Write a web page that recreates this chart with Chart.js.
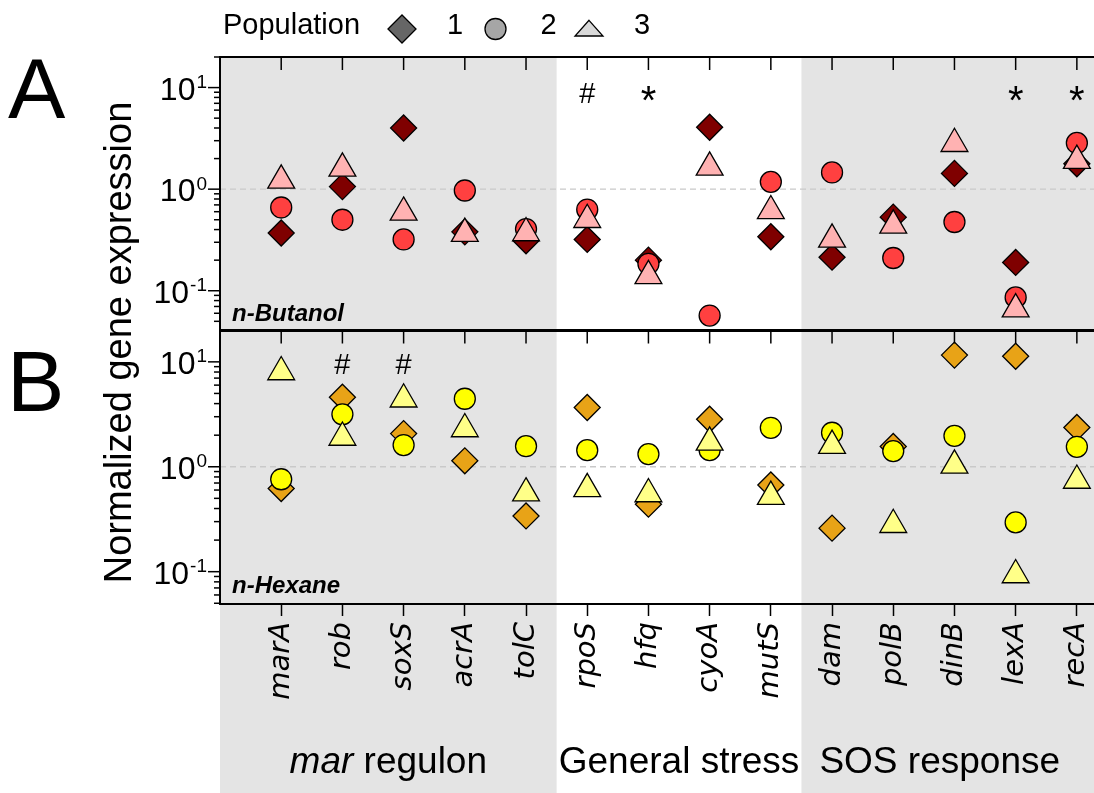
<!DOCTYPE html>
<html>
<head>
<meta charset="utf-8">
<script src="https://cdn.jsdelivr.net/npm/chart.js@4.4.0/dist/chart.umd.min.js"></script>
<style>
  html, body { margin: 0; padding: 0; background: #fff; overflow: hidden; }
  canvas { display: block; }
</style>
</head>
<body>
<canvas id="chart" width="1094" height="793"></canvas>
<script>
// Genes on the x axis, grouped by regulatory function
const genes = ['marA', 'rob', 'soxS', 'acrA', 'tolC', 'rpoS', 'hfq', 'cyoA', 'mutS', 'dam', 'polB', 'dinB', 'lexA', 'recA'];
const groupNames = ['mar regulon', 'General stress', 'SOS response'];
const groupBounds = [4.5, 8.5];          // category positions separating the groups
const decadeTicks = [0.1, 1, 10];

// n-Butanol: normalized expression per population
const butanolPop1 = [0.37, 1.06, 4.0, 0.38, 0.31, 0.32, 0.20, 4.07, 0.34, 0.214, 0.53, 1.43, 0.19, 1.78];
const butanolPop2 = [0.66, 0.50, 0.32, 0.97, 0.405, 0.63, 0.184, 0.057, 1.18, 1.46, 0.21, 0.475, 0.086, 2.85];
const butanolPop3 = [1.22, 1.60, 0.59, 0.365, 0.37, 0.50, 0.14, 1.64, 0.61, 0.32, 0.44, 2.8, 0.066, 1.91];
const butanolMarks = ['', '', '', '', '', '#', '*', '', '', '', '', '', '*', '*'];

// n-Hexane: normalized expression per population
const hexanePop1 = [0.62, 4.6, 2.07, 1.14, 0.34, 3.67, 0.44, 2.84, 0.67, 0.26, 1.56, 11.6, 11.3, 2.37];
const hexanePop2 = [0.76, 3.16, 1.61, 4.45, 1.57, 1.44, 1.32, 1.44, 2.35, 2.11, 1.41, 1.97, 0.295, 1.55];
const hexanePop3 = [8.0, 1.9, 4.4, 2.29, 0.56, 0.615, 0.55, 1.71, 0.52, 1.59, 0.28, 1.03, 0.093, 0.74];
const hexaneMarks = ['', '#', '#', '', '', '', '', '', '', '', '', '', '', ''];

const populations = ['1', '2', '3'];

const SANS = "'Liberation Sans', Arial, sans-serif";

const toPoints = arr => arr.map((v, i) => ({ x: i, y: v }));

function series(label, values, axis, style, fill, radius, order) {
  return {
    label, data: toPoints(values), yAxisID: axis,
    pointStyle: style, pointRadius: radius, pointBackgroundColor: fill,
    pointBorderColor: '#000', pointBorderWidth: 1.3,
    showLine: false, clip: false, order
  };
}

const datasets = [
  series('n-Butanol pop 1', butanolPop1, 'yA', 'rectRot', '#7f0000', 13, 2),
  series('n-Butanol pop 2', butanolPop2, 'yA', 'circle', '#ff4040', 10.5, 1),
  series('n-Butanol pop 3', butanolPop3, 'yA', 'triangle', '#ffb2b2', 15.5, 0),
  series('n-Hexane pop 1', hexanePop1, 'yB', 'rectRot', '#e8a317', 13, 2),
  series('n-Hexane pop 2', hexanePop2, 'yB', 'circle', '#ffff00', 10.5, 1),
  series('n-Hexane pop 3', hexanePop3, 'yB', 'triangle', '#ffff88', 15.5, 0)
];

function shape(ctx, style, x, y, r, fill) {
  ctx.beginPath();
  if (style === 'diamond') {
    ctx.moveTo(x - r, y); ctx.lineTo(x, y - r); ctx.lineTo(x + r, y); ctx.lineTo(x, y + r);
    ctx.closePath();
  } else if (style === 'circle') {
    ctx.arc(x, y, r, 0, Math.PI * 2);
  } else {
    ctx.moveTo(x, y - r * 0.62); ctx.lineTo(x + r, y + r * 0.5); ctx.lineTo(x - r, y + r * 0.5);
    ctx.closePath();
  }
  ctx.fillStyle = fill; ctx.fill();
  ctx.lineWidth = 1.3; ctx.strokeStyle = '#000'; ctx.stroke();
}

function line(ctx, x1, y1, x2, y2) {
  ctx.beginPath(); ctx.moveTo(x1, y1); ctx.lineTo(x2, y2); ctx.stroke();
}

function drawLogAxis(ctx, scale, left) {
  const lo = scale.min, hi = scale.max;
  ctx.strokeStyle = '#000'; ctx.lineWidth = 1.5; ctx.fillStyle = '#000';
  for (let e = Math.floor(Math.log10(lo)); e <= Math.ceil(Math.log10(hi)); e++) {
    for (let m = 1; m <= 9; m++) {
      const v = m * Math.pow(10, e);
      if (v < lo || v > hi) continue;
      const y = scale.getPixelForValue(v);
      line(ctx, left - (m === 1 ? 12 : 6), y, left, y);
    }
  }
  decadeTicks.forEach(v => {
    const y = scale.getPixelForValue(v);
    const exp = String(Math.round(Math.log10(v)));
    ctx.textAlign = 'right'; ctx.textBaseline = 'alphabetic';
    ctx.font = '19px ' + SANS;
    const ex = left - 13;
    ctx.fillText(exp, ex, y + 0.5);
    const w = ctx.measureText(exp).width;
    ctx.font = '32px ' + SANS;
    ctx.fillText('10', ex - w - 1, y + 12);
  });
}

const decor = {
  id: 'decor',
  beforeDraw(chart) {
    const { ctx, chartArea: ca, scales } = chart;
    const x = scales.x;
    ctx.save();
    ctx.fillStyle = '#fff';
    ctx.fillRect(0, 0, chart.width, chart.height);
    ctx.fillStyle = '#e4e4e4';
    const b0 = x.getPixelForValue(groupBounds[0]);
    const b1 = x.getPixelForValue(groupBounds[1]);
    ctx.fillRect(ca.left, ca.top, b0 - ca.left, chart.height - ca.top);
    ctx.fillRect(b1, ca.top, chart.width - b1, chart.height - ca.top);
    ctx.restore();
  },
  beforeDatasetsDraw(chart) {
    const { ctx, chartArea: ca, scales } = chart;
    ctx.save();
    ctx.strokeStyle = '#c9c9c9'; ctx.lineWidth = 1.3; ctx.setLineDash([6, 4]);
    ['yA', 'yB'].forEach(id => {
      const y = scales[id].getPixelForValue(1);
      line(ctx, ca.left, y, ca.right, y);
    });
    ctx.restore();
  },
  afterDraw(chart) {
    const { ctx, chartArea: ca, scales } = chart;
    const x = scales.x, yA = scales.yA, yB = scales.yB;
    ctx.save();

    // frame
    ctx.strokeStyle = '#000';
    ctx.lineWidth = 2;
    line(ctx, ca.left, ca.top, ca.right, ca.top);
    line(ctx, ca.left, ca.bottom, ca.right, ca.bottom);
    line(ctx, ca.left, ca.top - 1, ca.left, ca.bottom + 1);
    ctx.lineWidth = 3;
    line(ctx, ca.left, yA.bottom, ca.right, yA.bottom);

    // inward category ticks at the top of each panel
    ctx.lineWidth = 1.5;
    genes.forEach((g, i) => {
      const px = x.getPixelForValue(i);
      line(ctx, px, yA.top, px, yA.top + 13);
      line(ctx, px, yB.top, px, yB.top + 13);
    });

    drawLogAxis(ctx, yA, ca.left);
    drawLogAxis(ctx, yB, ca.left);

    // significance marks
    ctx.fillStyle = '#000'; ctx.textAlign = 'center'; ctx.textBaseline = 'alphabetic';
    const drawMarks = (marks, yHash, yStar) => {
      marks.forEach((m, i) => {
        if (!m) return;
        const px = x.getPixelForValue(i);
        if (m === '*') { ctx.font = '40px ' + SANS; ctx.fillText(m, px, yStar); }
        else { ctx.font = '29px ' + SANS; ctx.fillText(m, px, yHash); }
      });
    };
    drawMarks(butanolMarks, yA.top + 46, yA.top + 57);
    drawMarks(hexaneMarks, yB.top + 43, yB.top + 54);

    // solvent names
    ctx.textAlign = 'left';
    ctx.font = 'italic bold 24px ' + SANS;
    ctx.fillText('n-Butanol', ca.left + 12, yA.bottom - 10);
    ctx.fillText('n-Hexane', ca.left + 12, yB.bottom - 11);

    // panel letters
    ctx.font = '86px ' + SANS;
    ctx.fillText('A', 8, yA.top + 61);
    ctx.fillText('B', 7, yB.top + 80);

    // y axis title
    ctx.save();
    ctx.translate(131, (ca.top + ca.bottom) / 2 + 12);
    ctx.rotate(-Math.PI / 2);
    ctx.textAlign = 'center';
    ctx.font = '38px ' + SANS;
    ctx.fillText('Normalized gene expression', 0, 0);
    ctx.restore();

    // group labels under the gene names
    const bounds = [ca.left, x.getPixelForValue(groupBounds[0]), x.getPixelForValue(groupBounds[1]), ca.right];
    const labelY = 773;
    const gFont = '37px ' + SANS;
    groupNames.forEach((name, k) => {
      const cx = (bounds[k] + bounds[k + 1]) / 2 - (k === 2 ? 8 : 0);
      ctx.textAlign = 'left';
      if (name.startsWith('mar ')) {
        ctx.font = 'italic ' + gFont;
        const w1 = ctx.measureText('mar').width;
        ctx.font = gFont;
        const w2 = ctx.measureText(' regulon').width;
        const sx = cx - (w1 + w2) / 2;
        ctx.font = 'italic ' + gFont;
        ctx.fillText('mar', sx, labelY);
        ctx.font = gFont;
        ctx.fillText(' regulon', sx + w1, labelY);
      } else {
        ctx.font = gFont;
        ctx.textAlign = 'center';
        ctx.fillText(name, cx, labelY);
      }
    });

    // population key
    ctx.textAlign = 'left';
    ctx.font = '29px ' + SANS;
    ctx.fillStyle = '#000';
    ctx.fillText('Population', 223, 34);
    const keyStyles = [['diamond', '#666666', 14, 402], ['circle', '#a6a6a6', 10.5, 495.5], ['triangle', '#d9d9d9', 14, 589]];
    keyStyles.forEach(([st, fill, r, kx], k) => {
      shape(ctx, st, kx, 29, r, fill);
      ctx.fillStyle = '#000';
      ctx.font = '29px ' + SANS;
      ctx.fillText(populations[k], kx + 45, 34);
    });

    ctx.restore();
  }
};

new Chart(document.getElementById('chart'), {
  type: 'scatter',
  data: { datasets },
  options: {
    responsive: false,
    animation: false,
    devicePixelRatio: 1,
    events: [],
    layout: { autoPadding: false, padding: { left: 220, top: 57, right: 0, bottom: 0 } },
    plugins: { legend: { display: false }, tooltip: { enabled: false } },
    scales: {
      x: {
        type: 'linear', position: 'bottom', min: -1, max: 13.28, bounds: 'data',
        afterBuildTicks: s => { s.ticks = genes.map((g, i) => ({ value: i })); },
        afterFit: s => { s.height = 189; s.paddingLeft = 0; s.paddingRight = 0; },
        grid: { display: true, drawOnChartArea: false, drawTicks: true, tickLength: 12, tickColor: '#000', tickWidth: 1.5 },
        border: { display: false },
        ticks: {
          autoSkip: false, minRotation: 90, maxRotation: 90, padding: 6, color: '#000',
          font: { family: "'DejaVu Sans', sans-serif", style: 'italic', size: 29 },
          callback: v => genes[v] ?? ''
        }
      },
      yA: {
        type: 'logarithmic', position: 'left', stack: 'panels', stackWeight: 1, weight: 2,
        min: 0.0406, max: 20, bounds: 'data',
        grid: { display: false }, border: { display: false }, ticks: { display: false },
        afterFit: s => { s.width = 0; }
      },
      yB: {
        type: 'logarithmic', position: 'left', stack: 'panels', stackWeight: 1, weight: 1,
        min: 0.0492, max: 19.9, bounds: 'data',
        grid: { display: false }, border: { display: false }, ticks: { display: false },
        afterFit: s => { s.width = 0; }
      }
    }
  },
  plugins: [decor]
});
</script>
</body>
</html>
